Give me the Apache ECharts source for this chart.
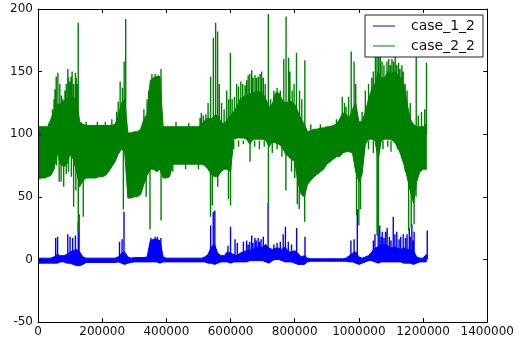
<!DOCTYPE html>
<html><head><meta charset="utf-8">
<script src="https://cdn.jsdelivr.net/npm/echarts@6/dist/echarts.min.js"></script>
<style>html,body{margin:0;padding:0;background:#fff}#c{width:517px;height:340px}</style>
</head><body><div id="c"></div><script>
// sample index grid (x = sample number), one envelope value every sampleStep samples
const sampleStep = 10000;
const seriesNames = ['case_1_2', 'case_2_2'];
const xRange = [0, 1400000, 200000];
const yRange = [-50, 200, 50];

// case_2_2 (green): upper / lower envelope of the dense signal
const greenTop = [106,106,106,106,112,118,124,124,126,128,130,130,128,110,108,107,107,107,107,107,107,107,107,107,108,114,125,128,101,101,
102,102,104,112,116,143,145,146,146,106,106,106,106,106,106,106,106,106,106,106,106,108,111,113,112,115,115,110,108,112,
115,118,122,128,130,131,132,133,134,134,133,128,122,124,133,133,128,125,126,126,124,118,112,108,102,103,104,104,105,105,
106,106,107,108,112,117,116,113,120,125,110,110,118,128,136,140,150,145,145,150,148,150,148,145,140,125,112,108,106,106,106,108];
const greenLow = [64,65,65,66,67,72,85,76,74,76,84,80,70,58,63,65,65,65,65,66,66,67,70,74,78,84,88,86,49,49,
50,50,52,60,67,72,72,70,72,65,65,66,76,76,76,76,76,76,76,76,76,76,75,72,68,66,66,70,72,72,
70,96,97,97,97,96,92,96,96,96,96,95,90,94,93,92,90,85,82,80,78,62,52,50,60,63,66,68,70,72,
76,78,80,82,82,85,86,86,85,70,62,68,92,96,96,95,80,95,96,96,96,94,90,84,76,66,55,45,62,70,72,72];
// narrow spikes of case_2_2: [sample, peak]
const greenUpSpikes = [[45000,120],[50000,128],[53000,136],[56800,146],[62000,149],[68000,140],[73300,131],[78000,128],
[84000,135],[88000,140],[92900,152],[95000,145],[99100,142],[103000,146],[106300,150],[111000,140],[116600,149],[119000,145],
[122000,140],[125300,189],[150000,110],[185000,110],[210000,110],[230000,112],[245000,118],[250000,126],
[256000,142],[263000,137],[268500,158],[273300,192],[330000,120],[340000,128],[345000,135],[355000,148],[365000,148],
[375000,147],[383400,152],[430000,110],[470000,109],[505000,113],[509000,117],[515000,115],[523000,116],[530000,125],
[538000,146],[546400,177],[553500,189],[559700,182],[565000,140],[572000,125],[580000,120],[588000,135],[594000,128],
[599500,165],[605000,128],[612000,130],[619000,140],[625000,138],[632000,142],[638000,140],[645300,139],[650000,143],
[655000,147],[660000,148],[666000,151],[670000,145],[676200,147],[681000,145],[686500,146],[692000,148],[696800,150],
[702000,145],[708000,140],[717800,196],[725000,128],[735000,135],[745000,137],[755000,135],[765900,160],[773000,194],
[781000,161],[785000,150],[792000,135],[798000,140],[805500,165],[815000,135],[822000,128],[831500,159],[850000,108],
[880000,108],[930000,112],[948000,130],[955000,125],[960000,122],[968000,130],[976000,166],[985000,158],[990000,140],
[1010000,118],[1020000,135],[1030000,140],[1040000,145],[1045000,150],[1051400,163],[1056500,186],[1061700,186],
[1066800,168],[1072000,158],[1078000,155],[1087400,158],[1093000,160],[1098000,155],[1102900,160],[1108000,158],
[1113200,162],[1118000,155],[1123500,157],[1128000,152],[1133800,155],[1138000,150],[1144100,140],[1150000,135],
[1160000,125],[1178600,162],[1185000,115],[1195000,118],[1205000,120],[1210600,157]];
const greenDownSpikes = [[58000,75],[66000,62],[72000,62],[80000,58],[88000,68],[95000,70],[104000,66],[111000,42],
[118000,55],[125500,22],[141000,34],[266000,40],[337000,50],[349000,24],[383500,31],[420000,70],[460000,72],[500000,72],
[537500,34],[543300,43],[560000,58],[593500,48],[600000,43],[610000,88],[625000,90],[640000,92],[660700,78],[675000,90],
[690000,88],[705000,90],[718000,44],[730000,85],[745000,88],[760000,82],[772500,55],[790000,70],[800000,65],[808000,44],
[814000,40],[831000,30],[992600,35],[999800,27],[1005000,40],[1015000,85],[1030000,88],[1045000,85],[1056500,19],
[1061000,22],[1075000,88],[1090000,90],[1100000,86],[1120000,88],[1135000,80],[1145000,70],[1155000,23],[1163000,25],
[1172000,28],[1178000,50]];

// case_1_2 (blue): upper / lower envelope
const blueTop = [1,1,1,1,1,2,4,3,3,4,6,7,8,6,2,1,1,1,1,1,1,1,1,1,1,2,5,6,2,1,
1.5,1.5,1.5,1.5,2,15,16,16,15,2,1,1,1,1,1,1,1,1,1,1,1,1,2,4,10,12,5,3,3,6,
5,4,3,5,6,7,7,8,9,10,10,12,9,8,9,9,8,10,6,6,7,5,2,3,1,0.5,0.5,0.5,0.5,0.5,
0.5,0.5,0.5,0.5,0.5,0.5,1,3,5,6,2,1,2,3,6,9,10,12,12,11,9,10,9,8,9,8,8,7,2,1,1,4];
const blueLow = [-3,-3,-3,-3,-3,-3,-3,-2,-2,-3,-3,-4,-5,-5,-4,-2.5,-2.5,-2.5,-2.5,-2.5,-2.5,-2.5,-2.5,-2.5,-2.5,-2,-3,-4,-3,-2.5,
-2,-2,-2,-2,-2,-2,-2,-2,-3,-2,-2,-2,-2,-2,-2,-2,-2,-2,-2,-2,-2,-2,-2,-3,-3,-4,-3,-2,-2,-2,
-3,-2,-2,-2,-2,-2,-1,-1,-1,-1,-1,-2,-3,-1,0,0,-1,-2,-2,-2,-3,-4,-4,-4,-2,-1.5,-1.5,-1.5,-1.5,-1.5,
-1.5,-1.5,-1.5,-1.5,-1.5,-1.5,-1.5,-2,-2,-3,-4,-3,-2,-1,-1,-2,-3,-2,-2,-2,-2,-2,-2,-2,-3,-3,-3,-4,-3,-2,-2,-2];
const blueSpikes = [[55000,17],[61000,18],[92800,20],[100000,18],[108000,17],[116600,19],[125500,30],[128000,36],
[254000,14],[262000,16],[268000,38],[352000,17],[365000,18],[372000,18],[383000,17],[538000,27],[546000,38],[551000,39],
[592000,11],[600000,26],[614000,16],[621000,13],[640000,14],[650000,15],[655000,12],[660000,14],[666000,19],[670000,13],
[676000,17],[680000,15],[686000,17],[690000,14],[695000,16],[702000,18],[717000,45],[735000,12],[745000,13],[755000,14],
[764000,20],[771000,26],[780000,14],[790000,12],[806000,25],[832000,18],[975000,15],[985000,16],[995000,40],
[1045000,15],[1050000,20],[1060000,33],[1065000,27],[1070000,18],[1073000,22],[1078000,17],[1083000,22],[1088000,25],
[1095000,18],[1100000,15],[1107000,34],[1112000,20],[1118000,22],[1125000,16],[1130000,18],[1138000,20],[1145000,17],
[1150000,20],[1157000,25],[1160000,18],[1165000,28],[1168000,15],[1172000,22],[1213000,23]];

const BLUE = '#0000ff', GREEN = '#008000';
const FONT = 'DejaVu Sans';

// band between low and top envelope, drawn as one polygon through the axis scales
function bandSeries(name, low, top, color, z){
  const data = top.map((t,i)=>[i*sampleStep, low[i], t]);
  return {
    type:'custom', name:name, data:data, z:z, animation:false, clip:true,
    encode:{x:0, y:[1,2]}, itemStyle:{color:color},
    renderItem:function(params, api){
      if (params.dataIndex !== 0) return null;
      const pts = [];
      for (let i=0;i<data.length;i++) pts.push(api.coord([data[i][0], data[i][2]]));
      for (let i=data.length-1;i>=0;i--) pts.push(api.coord([data[i][0], data[i][1]]));
      return {type:'polygon', shape:{points:pts}, style:{fill:color, stroke:color, lineWidth:1}};
    }
  };
}
function spikeData(list, base){ const d=[]; list.forEach(p=>{ d.push([p[0],base],[p[0],p[1]],[p[0],'-']); }); return d; }
function spikeSeries(name, data, color, z){
  return {type:'line', name:name, data:data, symbol:'none', connectNulls:false,
    lineStyle:{color:color,width:1.4}, itemStyle:{color:color}, z:z, animation:false};
}

const axisCommon = {
  z:10,
  axisLine:{show:true, onZero:false, lineStyle:{color:'#000', width:1}},
  axisTick:{show:true, inside:true, length:4, lineStyle:{color:'#000'}},
  splitLine:{show:false}
};
const labelStyle = {fontFamily:FONT, fontSize:12, color:'#111'};

const series = [
  bandSeries(seriesNames[0], blueLow, blueTop, BLUE, 2),
  spikeSeries(seriesNames[0], spikeData(blueSpikes, 0), BLUE, 2),
  bandSeries(seriesNames[1], greenLow, greenTop, GREEN, 3),
  spikeSeries(seriesNames[1], spikeData(greenUpSpikes, 100), GREEN, 3),
  spikeSeries(seriesNames[1], spikeData(greenDownSpikes, 95), GREEN, 3)
];

const chart = echarts.init(document.getElementById('c'), null, {renderer:'canvas'});
chart.setOption({
  animation:false,
  backgroundColor:'#fff',
  grid:{left:38, right:26, top:9, bottom:18, containLabel:false},
  xAxis:[
    Object.assign({type:'value', min:xRange[0], max:xRange[1], interval:xRange[2], position:'bottom',
      axisLabel:Object.assign({formatter:v=>String(v), margin:4}, labelStyle)}, axisCommon),
    Object.assign({type:'value', min:xRange[0], max:xRange[1], interval:xRange[2], position:'top',
      axisLabel:{show:false}}, axisCommon)
  ],
  yAxis:[
    Object.assign({type:'value', min:yRange[0], max:yRange[1], interval:yRange[2], position:'left',
      axisLabel:Object.assign({formatter:v=>String(v), margin:5}, labelStyle)}, axisCommon),
    Object.assign({type:'value', min:yRange[0], max:yRange[1], interval:yRange[2], position:'right',
      axisLabel:{show:false}}, axisCommon)
  ],
  legend:{
    data:[{name:seriesNames[0], itemStyle:{color:BLUE}}, {name:seriesNames[1], itemStyle:{color:GREEN}}],
    orient:'vertical', right:34, top:15, selectedMode:false, z:20,
    backgroundColor:'#fff', borderColor:'#222', borderWidth:1, borderRadius:0,
    padding:[4,8,4,8], itemGap:6, itemWidth:22, itemHeight:1, icon:'rect',
    textStyle:{fontFamily:FONT, fontSize:14, color:'#111', padding:[0,0,0,11]}
  },
  series:series
});
</script></body></html>
